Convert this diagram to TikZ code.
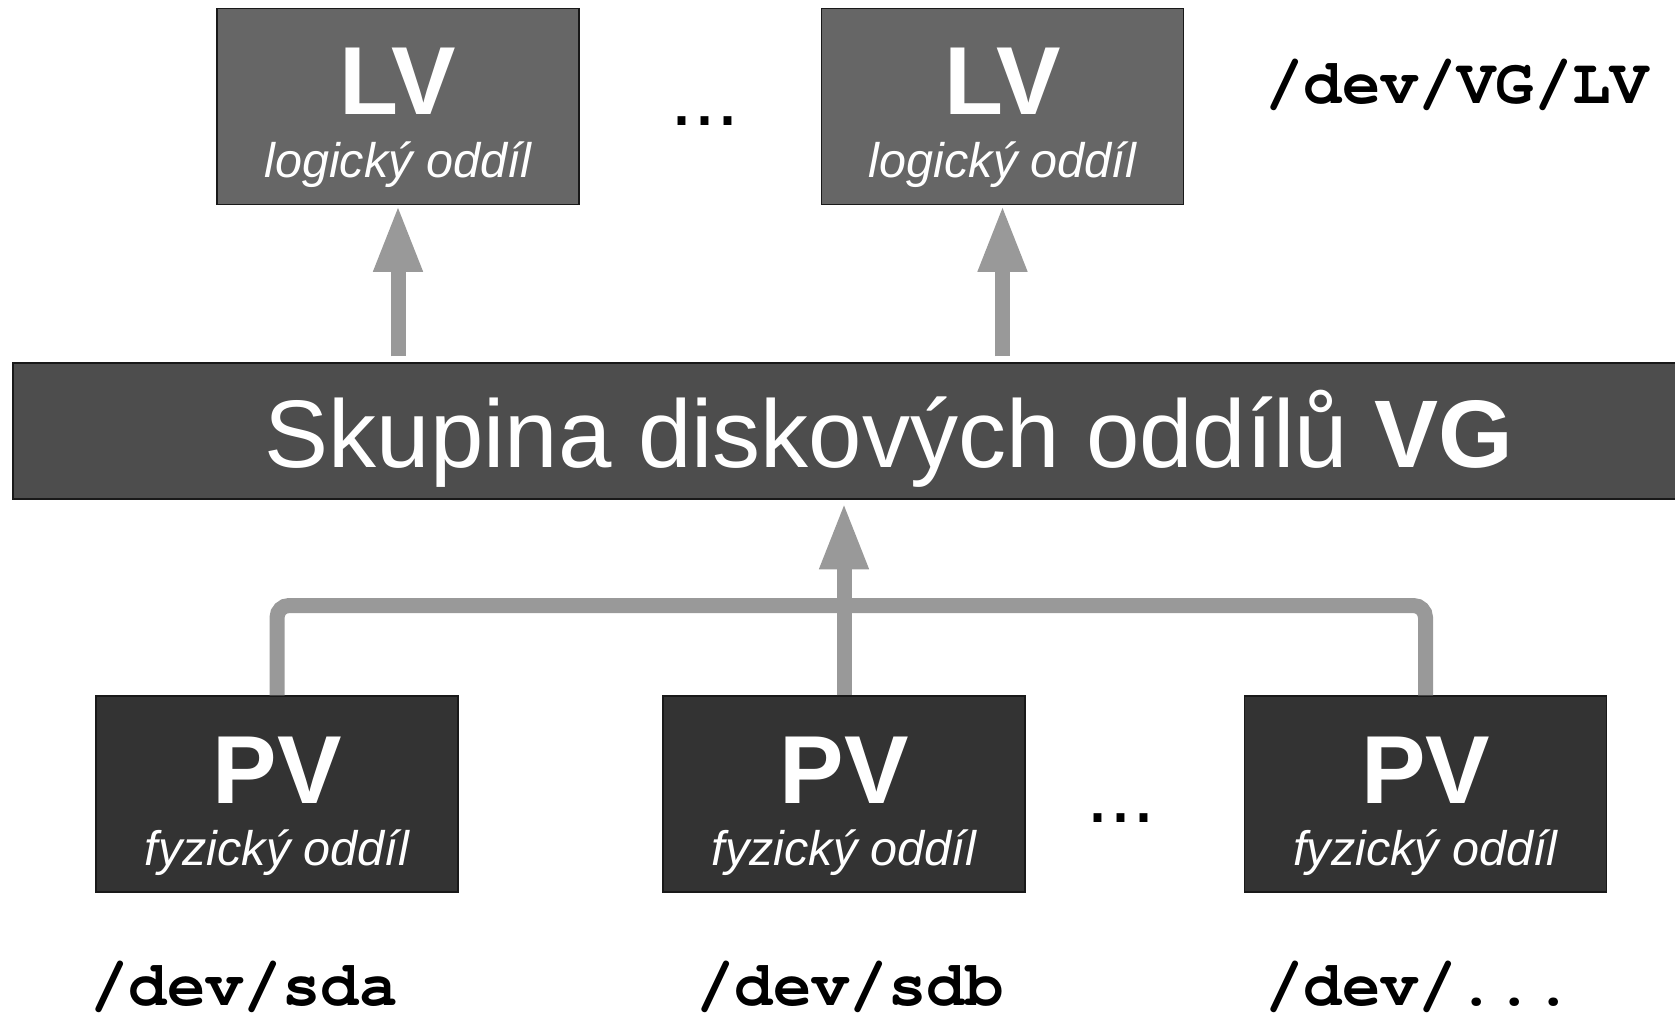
\documentclass[tikz,border=0pt]{standalone}
\usepackage{fontspec}
\setmainfont{Liberation Sans}
\setmonofont{Liberation Mono}
\usetikzlibrary{arrows.meta}
\definecolor{lvgray}{HTML}{666666}
\definecolor{vggray}{HTML}{4D4D4D}
\definecolor{pvgray}{HTML}{333333}
\definecolor{arrgray}{HTML}{999999}
\newcommand\courierbold{\fontencoding{T1}\fontfamily{pcr}\fontseries{b}\fontshape{n}\selectfont}
\begin{document}
\begin{tikzpicture}[x=0.75pt,y=-0.75pt,
  box/.style={draw=black!90, line width=0.9pt, inner sep=0pt, minimum width=271.5pt, minimum height=147pt},
  big/.style={text=white, font=\fontsize{72.5}{80}\selectfont\bfseries, anchor=base, inner sep=0pt},
  sub/.style={text=white, font=\fontsize{36.4}{42}\selectfont\itshape, anchor=base, inner sep=0pt},
  devlabel/.style={font=\fontsize{48}{56}\courierbold, anchor=base west, inner sep=0pt},
  dotlabel/.style={font=\fontsize{62}{70}\selectfont, anchor=base west, inner sep=0pt},
  conn/.style={draw=arrgray, line width=11.25pt},
  tip/.style={-{Triangle[length=50pt,width=34pt]}}
]
\useasboundingbox (0,0) rectangle (1675,1014);

% boxes
\node[box, fill=lvgray] (lv1) at (398,106.5) {};
\node[box, fill=lvgray] (lv2) at (1002.5,106.5) {};
\node[draw=black!90, line width=0.9pt, fill=vggray, minimum width=1257.75pt, minimum height=102pt, inner sep=0pt] (vg) at (851.5,431) {};
\node[box, fill=pvgray] (pv1) at (277,794) {};
\node[box, fill=pvgray] (pv2) at (844,794) {};
\node[box, fill=pvgray] (pv3) at (1425.5,794) {};

% texts
\node[big] (lv1t) at (398,114) {LV};
\node[sub] (lv1s) at (398,177) {logický oddíl};
\node[big] (lv2t) at (1002.5,114) {LV};
\node[sub] (lv2s) at (1002.5,177) {logický oddíl};
\node[anchor=base, text=white, font=\fontsize{72}{80}\selectfont, inner sep=0pt] (vgt) at (889,467) {Skupina diskových oddílů \textbf{VG}};
\node[big] (pv1t) at (277,803) {PV};
\node[sub] (pv1s) at (277,865) {fyzický oddíl};
\node[big] (pv2t) at (844,803) {PV};
\node[sub] (pv2s) at (844,865) {fyzický oddíl};
\node[big] (pv3t) at (1425.5,803) {PV};
\node[sub] (pv3s) at (1425.5,865) {fyzický oddíl};

\node[devlabel] (devlv) at (1265,103) {/dev/VG/LV};
\node[devlabel] (devsda) at (90,1005) {/dev/sda};
\node[devlabel] (devsdb) at (696,1005) {/dev/sdb};
\node[devlabel] (devdots) at (1265,1005) {/dev/...};

\node[dotlabel] (dotstop) at (670,125) {...};
\node[dotlabel] (dotsbot) at (1086.5,822) {...};

% connectors
\draw[conn, tip, shorten <=4.5pt] (lv1.south |- vg.north) -- (lv1.south);
\draw[conn, tip, shorten <=4.5pt] (lv2.south |- vg.north) -- (lv2.south);
\coordinate (junc) at (844,605.5);
\draw[conn, rounded corners=9pt] (pv1.north) |- (junc) -| (pv3.north);
\draw[conn, tip, shorten >=2.25pt] (pv2.north) -- (pv2.north |- vg.south);
\end{tikzpicture}
\end{document}
